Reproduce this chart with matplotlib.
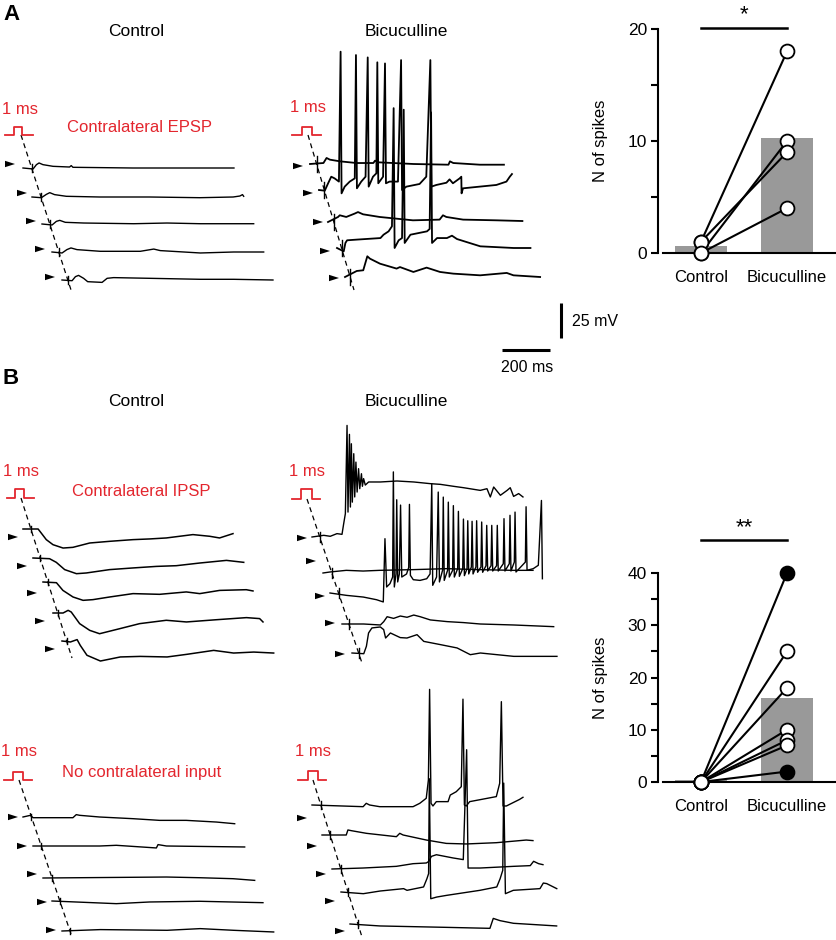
import numpy as np
import matplotlib
matplotlib.use("Agg")
import matplotlib.pyplot as plt
from matplotlib.patches import Polygon

plt.rcParams['font.family'] = ['Liberation Sans', 'DejaVu Sans']

W, H = 837, 940
RED = '#e3262e'
GREY = '#999999'

# scale bars: 200 ms = 48 px, 25 mV = 35 px
PX_MS = 48 / 200.0
PX_MV = 35 / 25.0

# ---------------- spike counts ----------------
cells_a_ctrl = [1, 0, 1, 0]
cells_a_bic = [18, 10, 9, 4]
bars_a = [0.6, 10.3]

cells_b_ctrl = [0, 0, 0, 0, 0, 0, 0]
cells_b_bic = [40, 25, 18, 10, 8, 7, 2]
filled_b = [True, False, False, False, False, False, True]
bars_b = [0.3, 16.0]

groups = ['Control', 'Bicuculline']

# ---------------- traces (time ms, voltage mV rel. to trace start) ----------------
a_ctrl_t = [
    [0, 42, 56, 67, 83, 125, 194, 201, 208, 458, 667, 879],
    [0, 39, 60, 74, 94, 143, 282, 490, 699, 838, 866, 877, 882],
    [0, 42, 60, 74, 97, 174, 382, 521, 660, 882],
    [0, 42, 62, 79, 104, 201, 368, 424, 451, 618, 757, 882],
    [0, 42, 56, 69, 90, 107, 167, 188, 215, 368, 576, 715, 879],
]
a_ctrl_v = [
    [0, -0.7, 2.4, 3.6, 2.4, 1.2, 0.7, 1.7, 0.5, 0, 0, 0],
    [0, -0.5, 1.9, 3.1, 1.7, 0.5, 0, 0, -0.5, 0, 0.7, 1.7, 0.5],
    [0, -0.7, 1.9, 2.6, 1.2, 0.7, 0.2, 0.7, 0.2, 0.2],
    [0, -0.7, 1.7, 2.9, 1.7, 0.5, 0.5, 2.1, 1.0, -0.7, 0, 0],
    [0, -0.5, 2.4, 3.3, 1.2, -1.2, -1.7, 1.2, 1.7, 1.2, 0.5, 0.5, 0],
]

a_bic_t = [
    [0, 56, 69, 83, 125, 194, 264, 271, 285, 431, 577, 583, 597, 708, 808],
    [0, 24, 38, 51, 65, 83, 90, 94, 107, 128, 149, 154, 158, 176, 194, 203, 207, 225,
     239, 243, 247, 267, 275, 279, 294, 329, 342, 346, 364, 419, 447, 464, 468, 489,
     531, 544, 558, 586, 593, 594, 600, 669, 739, 781, 795, 804],
    [0, 42, 49, 76, 111, 125, 146, 215, 354, 465, 479, 493, 563, 702, 810],
    [0, 28, 35, 42, 83, 181, 194, 215, 229, 236, 240, 257, 271, 278, 282, 306, 375,
     386, 392, 396, 417, 458, 479, 500, 597, 736, 806],
    [0, 49, 76, 93, 104, 146, 215, 229, 285, 340, 396, 451, 563, 674, 702, 813],
]
a_bic_v = [
    [0, 0.7, 4.3, 3.1, 1.9, 0.7, 0.7, 2.4, 1.2, 0, -0.5, 1.9, 0.7, -0.5, -0.5],
    [0, -0.5, 4.8, 9.5, 8.3, 6.0, 98.8, -2.4, 2.4, 6.0, 8.3, 96.4, 1.2, 6.0, 9.5, 94.7,
     2.4, 9.5, 11.9, 91.2, 4.8, 9.5, 90.4, 4.8, 6.0, 6.0, 92.8, 0, 2.4, 4.3, 9.5, 92.8,
     2.4, 3.6, 5.2, 7.6, 4.8, 8.3, 9.5, -2.4, 1.2, 2.4, 3.6, 6.0, 9.5, 11.4],
    [0, 3.6, 4.8, 3.6, 6.0, 7.1, 5.5, 3.6, 1.2, 1.7, 4.8, 3.6, 1.7, 1.2, 0.7],
    [0, -2.4, 3.6, 5.5, 6.0, 7.1, 9.5, 11.9, 15.5, 99.9, 0, 5.5, 7.1, 98.8, 3.6, 9.5,
     11.9, 13.6, 96.9, 3.6, 7.1, 7.1, 8.8, 6.4, 1.2, 0, 0],
    [0, 4.3, 4.8, 14.8, 13.1, 9.5, 6.0, 7.1, 3.6, 6.7, 3.6, 2.4, 1.2, 2.9, 1.2, 0],
]

b_ctrl_t = [
    [0, 63, 76, 97, 125, 167, 208, 278, 361, 458, 528, 597, 708, 778, 819, 875],
    [0, 69, 97, 132, 181, 222, 319, 417, 514, 597, 694, 806, 878],
    [0, 56, 83, 125, 167, 208, 278, 375, 486, 597, 653, 736, 847, 875],
    [0, 42, 63, 76, 111, 153, 194, 278, 361, 472, 556, 681, 806, 861, 875],
    [0, 35, 63, 76, 104, 160, 243, 326, 438, 521, 632, 715, 799, 882],
]
b_ctrl_v = [
    [0, 0, -2.9, -7.6, -11.2, -13.6, -13.1, -10.0, -8.8, -7.6, -7.1, -6.4, -4.0, -5.2, -6.4, -3.3],
    [0, -0.5, -3.1, -8.3, -11.2, -10.7, -8.3, -7.1, -6.0, -5.5, -3.6, -1.7, -3.1],
    [0, -0.5, -6.0, -10.7, -13.1, -12.6, -10.7, -8.3, -8.8, -7.1, -8.3, -6.0, -5.5, -6.4],
    [0, 0, 1.9, 0.7, -7.6, -12.4, -14.8, -11.2, -7.6, -5.2, -6.4, -4.8, -3.3, -4.0, -6.4],
    [0, -0.7, 1.0, -3.1, -10.2, -14.3, -11.4, -11.0, -11.4, -9.5, -6.7, -8.6, -7.9, -8.6],
]

b_bic_t = [
    [0, 49, 76, 104, 125, 132, 139, 146, 150, 156, 160, 164, 168, 174, 178, 183, 188,
     194, 199, 206, 210, 215, 222, 236, 285, 354, 424, 493, 535, 590, 632, 701, 729,
     743, 757, 785, 813, 826, 840, 861, 879],
    [0, 28, 97, 167, 236, 375, 514, 653, 792, 875],
    [0, 69, 139, 194, 222, 229, 236, 250, 261, 264, 268, 275, 278, 282, 289, 294, 299,
     319, 328, 331, 335, 347, 375, 403, 417, 424, 428, 444, 451, 456, 469, 472, 476,
     490, 493, 497, 511, 514, 518, 532, 535, 539, 553, 556, 560, 571, 574, 578, 589,
     592, 596, 608, 611, 615, 629, 632, 636, 650, 653, 657, 671, 674, 678, 694, 697,
     701, 722, 725, 729, 747, 750, 754, 768, 771, 775, 814, 817, 821, 847, 868, 881, 885],
    [0, 90, 160, 174, 188, 215, 243, 271, 299, 326, 368, 438, 507, 576, 715, 882],
    [0, 49, 60, 69, 83, 118, 132, 140, 160, 181, 201, 229, 271, 299, 368, 438, 493,
     535, 604, 674, 757, 854],
]
b_bic_v = [
    [0, 1.2, 0.5, 2.4, 1.9, 9.5, 16.7, 79.7, 17.8, 73.3, 21.4, 66.6, 24.9, 59.5, 28.6,
     53.5, 32.1, 48.8, 34.5, 45.2, 36.2, 41.7, 37.1, 39.3, 39.3, 40.0, 39.3, 38.1, 37.6,
     36.2, 35.2, 33.3, 34.5, 28.6, 35.7, 29.8, 33.3, 35.2, 29.0, 31.0, 28.6],
    [0, 0.7, 1.9, 1.4, 1.9, 2.4, 3.1, 2.4, 1.9, 1.9],
    [0, -1.7, -2.9, -4.8, -6.4, 38.8, 4.3, 6.7, 11.4, 86.5, 4.3, 13.6, 66.6, 7.9, 13.6,
     62.8, 11.4, 13.6, 18.3, 63.3, 12.6, 9.5, 9.0, 10.2, 13.6, 78.1, 5.5, 11.4, 72.1,
     7.9, 16.2, 68.5, 9.0, 16.2, 64.9, 11.4, 16.2, 62.4, 11.4, 17.4, 58.3, 11.9, 17.4,
     52.8, 12.4, 17.4, 51.6, 13.6, 18.6, 51.2, 13.6, 18.6, 51.6, 14.8, 18.6, 50.7, 14.8,
     19.5, 48.3, 15.7, 19.5, 48.3, 15.7, 19.5, 48.3, 15.7, 20.9, 53.1, 15.7, 20.9, 55.5,
     15.7, 22.1, 57.8, 15.0, 22.1, 61.6, 16.2, 17.4, 19.8, 66.1, 10.2],
    [0, 0, -0.7, 1.7, 5.2, 4.0, 5.7, 4.8, 6.4, 5.2, 2.9, 1.7, 1.0, 0, -0.7, -1.9],
    [0, -0.5, 4.8, 14.3, 17.9, 18.6, 16.7, 10.7, 14.3, 12.6, 11.0, 10.7, 13.1, 8.3, 6.0,
     3.6, -1.2, 0, -1.2, -2.4, -2.4, -2.4],
]

n_ctrl_t = [
    [0, 31, 42, 208, 222, 236, 319, 458, 569, 680, 806, 882],
    [0, 278, 347, 514, 521, 556, 882],
    [0, 514, 653, 792, 882],
    [0, 268, 407, 615, 879],
    [0, 160, 438, 576, 715, 882],
]
n_ctrl_v = [
    [0, 1.2, -0.5, -0.5, 1.7, 1.2, 0, -1.2, -2.4, -2.4, -3.6, -4.8],
    [0, 0, 0.5, -1.4, 1.0, 0, -0.7],
    [0, 0.7, 0.2, -0.5, -1.7],
    [0, -1.9, -0.7, -0.2, -1.2],
    [0, 1.0, 0.5, 1.7, 0.5, -0.7],
]

n_bic_t = [
    [0, 213, 226, 240, 282, 421, 449, 476, 485, 490, 496, 504, 518, 567, 576, 601, 622,
     629, 635, 643, 657, 768, 782, 789, 796, 810, 838, 865, 879],
    [0, 101, 108, 122, 185, 310, 324, 338, 435, 518, 601, 726, 851, 879],
    [0, 129, 268, 338, 393, 404, 414, 435, 504, 547, 561, 567, 617, 756, 826, 840, 861, 879],
    [0, 93, 163, 261, 275, 344, 358, 365, 368, 374, 399, 440, 579, 649, 663, 674, 678,
     685, 718, 829, 843, 857, 899],
    [0, 125, 264, 403, 583, 597, 625, 681, 861],
]
n_bic_v = [
    [0, -1.2, 1.2, 0, -1.2, -1.2, 1.2, 4.8, 17.9, 82.6, 1.2, -0.7, 2.4, 2.4, 7.1, 9.5,
     13.1, 75.6, 0, -0.7, 2.4, 6.0, 15.5, 73.8, -0.7, -0.7, 1.7, 4.0, 5.5],
    [0, 0, 3.6, 3.1, 1.2, -1.2, 1.2, 0, -3.6, -6.0, -6.4, -5.5, -3.6, -4.0],
    [0, 0.7, 1.9, 3.8, 4.3, 5.5, 9.0, 10.2, 7.9, 6.7, 85.2, 0.7, 0.7, 1.9, 2.4, 5.5, 3.8, 3.1],
    [0, -1.2, 0.7, 2.4, 1.2, 3.6, 9.5, 13.1, 80.9, -4.8, -3.6, -2.4, 1.2, 3.6, 9.5, 15.5,
     77.8, -1.2, 1.2, 2.4, 6.4, 6.0, 2.4],
    [0, -1.4, -1.9, -2.4, -3.1, 4.0, 2.4, 0.5, -1.4],
]

# ---------------- layout of the trace panels (pixels) ----------------
panels = [
    dict(t=a_ctrl_t, v=a_ctrl_v, x0=[23, 32, 42, 52, 62], y0=[168, 197, 224, 252, 280],
         arrows=[(15, 164), (27, 193), (36, 221), (45, 249), (55, 277)],
         dash=((21, 135), (72, 293)), pulse=(5, 14, 22, 33, 135, 127), ms=(20, 109),
         art=4, lw=1.0),
    dict(t=a_bic_t, v=a_bic_v, x0=[310, 319, 328, 337, 345], y0=[164, 190, 222, 248, 277],
         arrows=[(303, 166), (313, 193), (323, 222), (330, 251), (339, 278)],
         dash=((308, 135), (354, 290)), pulse=(292, 302, 312, 321, 135, 127), ms=(308, 108),
         art=8, lw=1.3),
    dict(t=b_ctrl_t, v=b_ctrl_v, x0=[23, 33, 43, 53, 62], y0=[529, 558, 582, 613, 641],
         arrows=[(18, 537), (27, 566), (37, 593), (45, 621), (55, 649)],
         dash=((21, 498), (72, 658)), pulse=(7, 15, 24, 34, 498, 489), ms=(21, 471),
         art=3, lw=1.1),
    dict(t=b_bic_t, v=b_bic_v, x0=[312, 323, 330, 342, 352], y0=[537, 573, 593, 624, 653],
         arrows=[(307, 538), (316, 561), (325, 596), (335, 623), (345, 654)],
         dash=((307, 499), (362, 663)), pulse=(292, 301, 312, 320, 499, 489), ms=(307, 471),
         art=5, lw=1.0),
    dict(t=n_ctrl_t, v=n_ctrl_v, x0=[23, 33, 43, 52, 62], y0=[817, 846, 878, 901, 931],
         arrows=[(18, 817), (27, 846), (37, 874), (47, 902), (56, 930)],
         dash=((19, 780), (72, 937)), pulse=(4, 13, 23, 32, 780, 772), ms=(19, 752),
         art=3, lw=1.0),
    dict(t=n_bic_t, v=n_bic_v, x0=[312, 322, 332, 341, 350], y0=[805, 835, 869, 892, 924],
         arrows=[(307, 818), (317, 846), (326, 874), (335, 901), (345, 931)],
         dash=((313, 780), (362, 937)), pulse=(298, 308, 318, 326, 780, 771), ms=(313, 752),
         art=4, lw=1.0),
]

fig = plt.figure(figsize=(W / 100, H / 100), dpi=100)
ax = fig.add_axes([0, 0, 1, 1])
ax.set_xlim(0, W)
ax.set_ylim(H, 0)
ax.axis('off')

for p in panels:
    (xa, ya), (xb, yb) = p['dash']
    ax.plot([xa, xb], [ya, yb], color='k', lw=0.9, dashes=(4, 3))
    a, b, c, d, yb0, yt = p['pulse']
    ax.plot([a, b, b, c, c, d], [yb0, yb0, yt, yt, yb0, yb0], color=RED, lw=1.3)
    ax.text(p['ms'][0], p['ms'][1], '1 ms', color=RED, fontsize=12,
            ha='center', va='center')
    for t, v, x0, y0, (ax_, ay_) in zip(p['t'], p['v'], p['x0'], p['y0'], p['arrows']):
        xs = x0 + np.array(t) * PX_MS
        ys = y0 - np.array(v) * PX_MV
        ax.plot(xs, ys, color='k', lw=p['lw'], solid_joinstyle='round')
        # stimulus artefact where the dashed line crosses the trace
        xart = xa + (y0 - ya) * (xb - xa) / (yb - ya)
        ax.plot([xart, xart], [y0 - p['art'], y0 + p['art']], color='k', lw=1.0)
        ax.add_patch(Polygon([(ax_, ay_), (ax_ - 10, ay_ - 3.2), (ax_ - 10, ay_ + 3.2)],
                             closed=True, color='k', lw=0))

# titles and labels
ax.text(3, 15, 'A', fontsize=16, fontweight='bold', ha='left', va='center')
ax.text(3, 378, 'B', fontsize=16, fontweight='bold', ha='left', va='center')
for y in (31, 401):
    ax.text(136, y, 'Control', fontsize=12.5, ha='center', va='center')
    ax.text(406, y, 'Bicuculline', fontsize=12.5, ha='center', va='center')
ax.text(67, 128, 'Contralateral EPSP', color=RED, fontsize=12, ha='left', va='center')
ax.text(72, 492, 'Contralateral IPSP', color=RED, fontsize=12, ha='left', va='center')
ax.text(62, 773, 'No contralateral input', color=RED, fontsize=12, ha='left', va='center')

# scale bars
ax.plot([502, 502 + 200 * PX_MS], [350, 350], color='k', lw=2.2, solid_capstyle='butt')
ax.plot([561, 561], [338, 338 - 25 * PX_MV], color='k', lw=2.2, solid_capstyle='butt')
ax.text(527, 368, '200 ms', fontsize=11.5, ha='center', va='center')
ax.text(572, 322, '25 mV', fontsize=11.5, ha='left', va='center')


def spike_panel(rect, ctrl, bic, bars, ymax, major, sig_y, stars, filled=None):
    bx = fig.add_axes(rect)
    bx.bar([0, 1], bars, width=0.6, color=GREY, zorder=1)
    for c0, c1 in zip(ctrl, bic):
        bx.plot([0, 1], [c0, c1], color='k', lw=1.5, zorder=2, clip_on=False)
    for i, (c0, c1) in enumerate(zip(ctrl, bic)):
        fc1 = 'k' if (filled is not None and filled[i]) else 'white'
        bx.plot([0], [c0], 'o', ms=10, mfc='white', mec='k', mew=1.3, zorder=3, clip_on=False)
        bx.plot([1], [c1], 'o', ms=10, mfc=fc1, mec='k', mew=1.3, zorder=3, clip_on=False)
    bx.plot([0, 1], [sig_y, sig_y], color='k', lw=1.8, clip_on=False)
    bx.text(0.5, sig_y + ymax * 0.01, stars, fontsize=16, ha='center', va='bottom')
    bx.set_xlim(-0.442, 1.581)
    bx.set_ylim(0, ymax)
    ticks = np.arange(0, ymax + 1, major / 2)
    bx.set_yticks(ticks)
    bx.set_yticklabels([str(int(v)) if v % major == 0 else '' for v in ticks])
    bx.set_xticks([0, 1])
    bx.set_xticklabels(groups)
    bx.tick_params(axis='x', length=0, pad=12, labelsize=12)
    bx.tick_params(axis='y', length=5, width=1.5, pad=3, labelsize=12.5)
    for s in ('top', 'right'):
        bx.spines[s].set_visible(False)
    bx.spines['left'].set_position(('outward', 3.6))
    bx.spines['left'].set_bounds(0, ymax)
    bx.spines['left'].set_linewidth(1.5)
    bx.spines['bottom'].set_linewidth(1.5)
    bx.set_ylabel('N of spikes', fontsize=12)
    bx.yaxis.set_label_coords(-0.316, 0.5)
    bx.patch.set_visible(False)
    return bx


spike_panel([663 / W, (H - 253) / H, (W - 663) / W, (253 - 29) / H],
            cells_a_ctrl, cells_a_bic, bars_a, 20, 10, 20.1, '*')
spike_panel([663 / W, (H - 782) / H, (W - 663) / W, (782 - 573) / H],
            cells_b_ctrl, cells_b_bic, bars_b, 40, 10, 46.3, '**', filled_b)

fig.savefig('out.png', dpi=100)
